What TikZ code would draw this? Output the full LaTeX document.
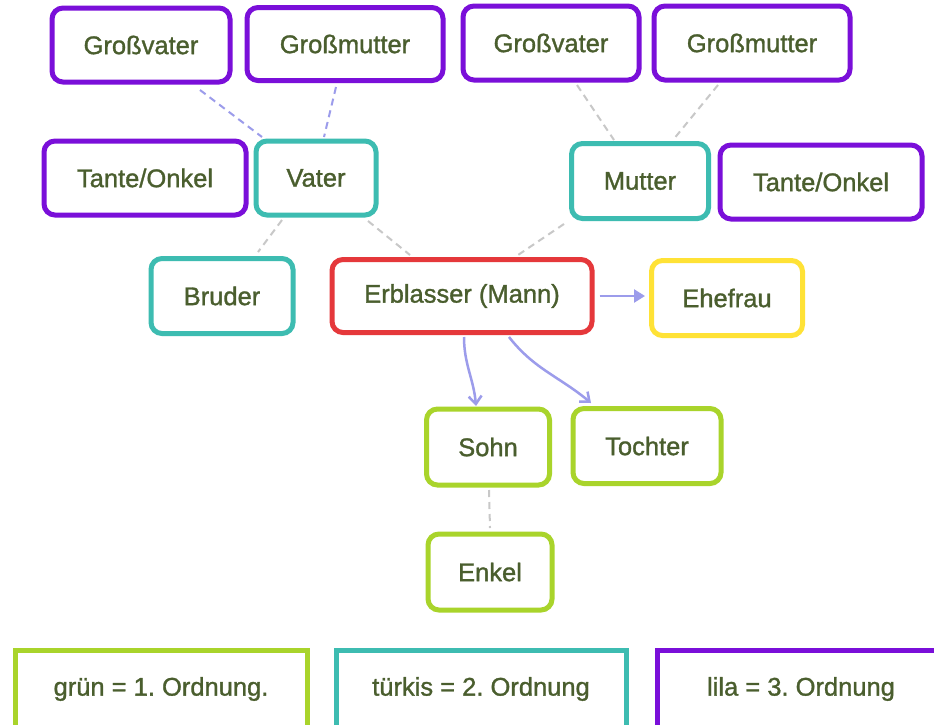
\documentclass[tikz,border=0pt]{standalone}
\usepackage{fontspec}
\setmainfont{Liberation Sans}
\newfontfamily\boxfont[FakeBold=1.2]{Liberation Sans}
\usetikzlibrary{arrows.meta,calc}
\definecolor{lilac}{HTML}{7A0FD9}
\definecolor{turq}{HTML}{3DBCB1}
\definecolor{redb}{HTML}{E5383B}
\definecolor{yell}{HTML}{FFE236}
\definecolor{lime}{HTML}{A9D42B}
\definecolor{txt}{HTML}{4A5E2E}
\definecolor{lav}{HTML}{9C9CEB}
\definecolor{grayd}{HTML}{C8C8C8}
\tikzset{
  fam/.style={draw, rectangle, rounded corners=11pt, line width=5pt, fill=white,
    text=txt, font=\boxfont\fontsize{25.5}{30}\selectfont, inner sep=0pt},
  legend/.style={draw, rectangle, line width=5pt, fill=white,
    text=txt, font=\boxfont\fontsize{25.5}{30}\selectfont\frenchspacing, inner sep=0pt},
  lavdash/.style={draw=lav, line width=2pt, dash pattern=on 7pt off 5pt},
  graydash/.style={draw=grayd, line width=2pt, dash pattern=on 7pt off 5pt},
  lavarrow/.style={draw=lav, line width=2.5pt},
}
\begin{document}
\begin{tikzpicture}[x=1pt,y=-1pt]
\clip (0,0) rectangle (934,724);
\fill[white] (0,0) rectangle (934,724);
% family nodes
\node[fam, draw=lilac, minimum width=178pt, minimum height=74pt] (gvL) at (141,45) {Großvater};
\node[fam, draw=lilac, minimum width=196pt, minimum height=73pt] (gmL) at (345,44) {Großmutter};
\node[fam, draw=lilac, minimum width=176pt, minimum height=74pt] (gvR) at (551,43) {Großvater};
\node[fam, draw=lilac, minimum width=196pt, minimum height=74pt] (gmR) at (752,43) {Großmutter};
\node[fam, draw=lilac, minimum width=202pt, minimum height=74pt] (toL) at (145,178) {Tante/Onkel};
\node[fam, draw=turq, minimum width=120pt, minimum height=74pt] (vater) at (316,178) {Vater};
\node[fam, draw=turq, minimum width=137pt, minimum height=75pt] (mutter) at (640,181) {Mutter};
\node[fam, draw=lilac, minimum width=202pt, minimum height=74pt] (toR) at (821,182) {Tante/Onkel};
\node[fam, draw=turq, minimum width=142pt, minimum height=75pt] (bruder) at (222,296) {Bruder};
\node[fam, draw=redb, minimum width=260pt, minimum height=73pt] (erb) at (462,296) {Erblasser (Mann)};
\node[fam, draw=yell, minimum width=151pt, minimum height=75pt] (ehe) at (727,298) {Ehefrau};
\node[fam, draw=lime, minimum width=123pt, minimum height=76pt] (sohn) at (488,447) {Sohn};
\node[fam, draw=lime, minimum width=148pt, minimum height=75pt] (tochter) at (647,446) {Tochter};
\node[fam, draw=lime, minimum width=124pt, minimum height=76pt] (enkel) at (490,572) {Enkel};
% dashed connectors
\draw[lavdash] ([shift={(59,45)}]gvL.center) -- ([shift={(-54,-41)}]vater.center);
\draw[lavdash] ([shift={(-9,43)}]gmL.center) -- ([shift={(8,-41)}]vater.center);
\draw[graydash] ([shift={(26,42)}]gvR.center) -- ([shift={(-26,-41)}]mutter.center);
\draw[graydash] ([shift={(-34,42)}]gmR.center) -- ([shift={(33,-41)}]mutter.center);
\draw[graydash] ([shift={(-34,42)}]vater.center) -- ([shift={(36,-44)}]bruder.center);
\draw[graydash] ([shift={(52,43)}]vater.center) -- ([shift={(-52,-41)}]erb.center);
\draw[graydash] ([shift={(-76,43)}]mutter.center) -- ([shift={(56,-41)}]erb.center);
\draw[graydash] ([shift={(1,43)}]sohn.center) -- ([shift={(0,-44)}]enkel.center);
% arrows
\draw[lavarrow, -{Triangle[length=11pt,width=13pt]}] ([xshift=5pt]erb.east) -- ([xshift=-4pt]erb.east -| ehe.west);
\draw[lavarrow, -{Straight Barb[length=8pt,width=13pt]}] ([shift={(2,41)}]erb.center) to[out=-90,in=95] ([shift={(-12,-41)}]sohn.center);
\draw[lavarrow, -{Straight Barb[length=8pt,width=13pt]}] ([shift={(47,41)}]erb.center) to[out=-52,in=140] ([shift={(-56,-43)}]tochter.center);
% legend
\node[legend, draw=lime, minimum width=292pt, minimum height=78pt] (lg1) at (161,689) {grün = 1. Ordnung.};
\node[legend, draw=turq, minimum width=290pt, minimum height=78pt] (lg2) at (481,689) {türkis = 2. Ordnung};
\node[legend, draw=lilac, minimum width=288pt, minimum height=78pt] (lg3) at (801,689) {lila = 3. Ordnung};
\end{tikzpicture}
\end{document}
